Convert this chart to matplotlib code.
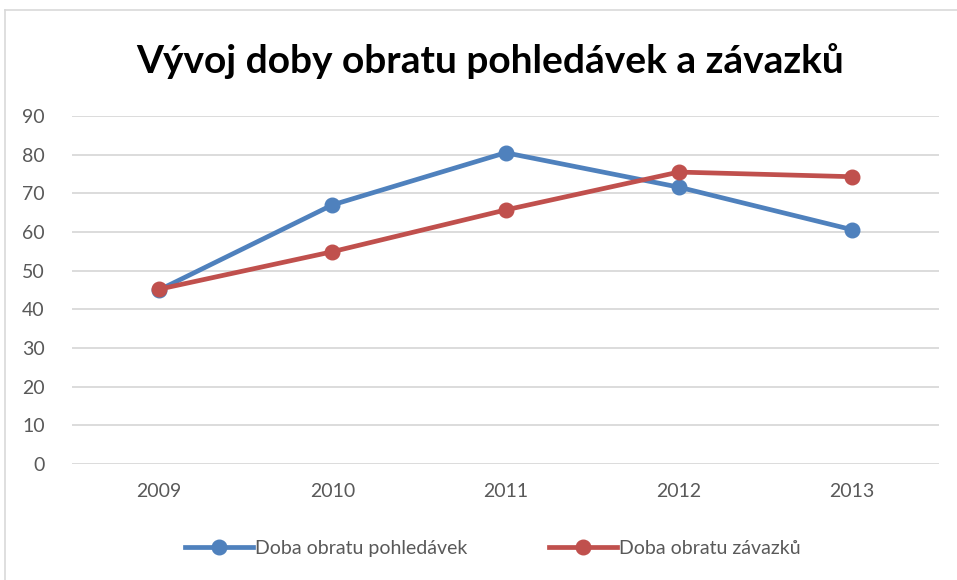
import matplotlib.pyplot as plt
from matplotlib.lines import Line2D

# data
roky = ['2009', '2010', '2011', '2012', '2013']
pohledavky = [45.0, 67.0, 80.5, 71.6, 60.6]
zavazky = [45.2, 54.9, 65.7, 75.5, 74.3]

modra = '#4f81bd'
cervena = '#c0504d'
seda = '#595959'

plt.rcParams['font.family'] = ['Lato', 'DejaVu Sans']

fig = plt.figure(figsize=(9.57, 5.8), dpi=100)
ax = fig.add_axes([0.0757, 0.2, 0.9051, 0.6])

x = range(len(roky))
ax.plot(x, pohledavky, color=modra, lw=3.4, marker='o', ms=10.5,
        label='Doba obratu pohledávek', zorder=3)
ax.plot(x, zavazky, color=cervena, lw=3.4, marker='o', ms=10.5,
        label='Doba obratu závazků', zorder=3)

ax.set_xlim(-0.5, 4.5)
ax.set_ylim(0, 90)
ax.set_yticks(range(0, 91, 10))
ax.set_xticks(list(x))
ax.set_xticklabels(roky)
ax.grid(axis='y', color='#d9d9d9', lw=1.3)
ax.set_axisbelow(True)
for s in ax.spines.values():
    s.set_visible(False)
ax.tick_params(length=0, colors=seda, labelsize=14)
ax.tick_params(axis='y', pad=20)
ax.tick_params(axis='x', pad=14)

fig.text(0.5125, 0.895, 'Vývoj doby obratu pohledávek a závazků',
         ha='center', va='center', fontsize=28, fontweight='bold', color='black')

# ramecek grafu
fig.add_artist(Line2D([0.0052, 0.0052], [0, 0.983], color='#d9d9d9', lw=1.2))
fig.add_artist(Line2D([0.0052, 1], [0.983, 0.983], color='#d9d9d9', lw=1.2))

leg = fig.legend(loc='center', bbox_to_anchor=(0.515, 0.055), ncol=2, frameon=False,
                 fontsize=14, handlelength=3.5, handletextpad=0.1,
                 columnspacing=4.2)
for t in leg.get_texts():
    t.set_color(seda)

fig.savefig('out.png', dpi=100)
